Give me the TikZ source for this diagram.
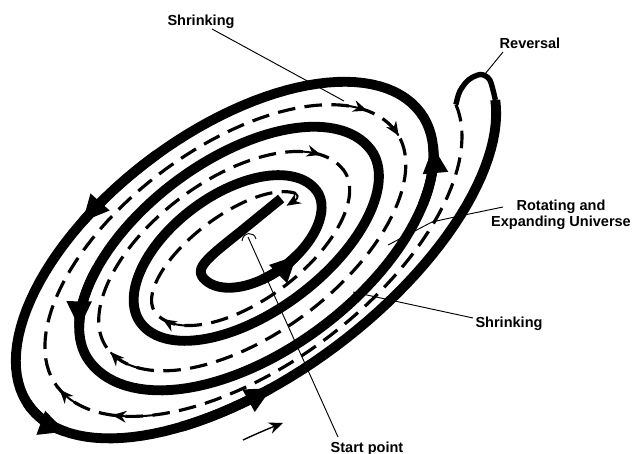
\documentclass[tikz,border=0pt]{standalone}
\usepackage{fontspec}
\setmainfont{Liberation Sans}
\usetikzlibrary{arrows.meta}
\begin{document}
\begin{tikzpicture}[x=0.03cm,y=-0.03cm,
  thk/.style={line width=8.4pt, line join=round},
  dsh/.style={line width=2.7pt, dash pattern=on 15pt off 8pt},
  thn/.style={line width=1.7pt},
  loopline/.style={line width=4.6pt, line join=round},
  lead/.style={line width=0.8pt},
  lbl/.style={font=\fontsize{12.4}{13.7}\selectfont\bfseries, inner sep=0pt, align=center},
  bigtip/.style={-{Triangle[length=23pt,width=20pt]}},
  smalltipR/.style={{Stealth[length=12pt,width=10pt]}-},
  smalltip/.style={-{Stealth[length=12pt,width=10pt]}},
]
\useasboundingbox (0,0) rectangle (633,454);

\begin{scope}[shift={(255,237)}, rotate=37, yscale=-1, samples=60, variable=\t]
  % thick expanding spiral
  \draw[thk] (44,15) -- (-8,13) .. controls (-45,12) and (-66,12) .. (-66,0)
    -- plot[domain=180:360] ({5.5+71.5*cos(\t)},{41*sin(\t)})
    -- plot[domain=0:180] ({-33+110*cos(\t)},{60*sin(\t)})
    -- plot[domain=180:360] ({1+144*cos(\t)},{73*sin(\t)})
    -- plot[domain=0:180] ({-31+176*cos(\t)},{92*sin(\t)})
    -- plot[domain=180:360] ({207*cos(\t)},{112*sin(\t)})
    -- plot[domain=0:180] ({-37.5+244.5*cos(\t)},{125*sin(\t)})
    -- plot[domain=180:345] ({1+283*cos(\t)},{136*sin(\t)});
  % reversal loop
  \draw[loopline] plot[smooth] coordinates {(274.4,-35.2) (282,-16) (278,-6) (265,-3) (251,-7) (240.2,-15.1)};
  % dashed shrinking spiral
  \draw[dsh] plot[domain=0:173] ({-3+245*cos(353-\t)},{124*sin(353-\t)})
    -- plot[domain=0:180] ({-36+212*cos(180-\t)},{108*sin(180-\t)})
    -- plot[domain=0:180] ({-4.5+180.5*cos(360-\t)},{92*sin(360-\t)})
    -- plot[domain=0:180] ({-37+148*cos(180-\t)},{76*sin(180-\t)})
    -- plot[domain=0:180] ({-7+118*cos(360-\t)},{57*sin(360-\t)})
    -- plot[domain=0:165] ({-31.5+93.5*cos(180-\t)},{39*sin(180-\t)});
  \draw[thn, smalltip] (58.8,10.1) .. controls (60,5) and (55,5) .. (44,6);
  % thick arrows
  \draw[thk, bigtip] plot[domain=250:284] ({5.5+71.5*cos(\t)},{41*sin(\t)});
  \draw[thk, bigtip] plot[domain=130:159] ({-31+176*cos(\t)},{92*sin(\t)});
  \draw[thk, bigtip] plot[domain=88:112] ({-37.5+244.5*cos(\t)},{125*sin(\t)});
  \draw[thk, bigtip] plot[domain=318:342] ({207*cos(\t)},{112*sin(\t)});
  \draw[thk, bigtip] plot[domain=232:254] ({1+283*cos(\t)},{136*sin(\t)});
  \draw[thk, bigtip] plot[domain=178:198] ({1+283*cos(\t)},{136*sin(\t)});
  % thin arrows on dashed spiral
  \draw[thn, smalltipR] plot[domain=18:31] ({-36+212*cos(\t)},{108*sin(\t)});
  \draw[thn, smalltipR] plot[domain=-3:9] ({-36+212*cos(\t)},{108*sin(\t)});
  \draw[thn, smalltipR] plot[domain=20:36] ({-37+148*cos(\t)},{76*sin(\t)});
  \draw[thn, smalltipR] plot[domain=190:216] ({-7+118*cos(\t)},{57*sin(\t)});
  \draw[thn, smalltipR] plot[domain=183:202] ({-4.5+180.5*cos(\t)},{92*sin(\t)});
  \draw[thn, smalltipR] plot[domain=182:196] ({-3+245*cos(\t)},{124*sin(\t)});
  \draw[thn, smalltipR] plot[domain=207:222] ({-3+245*cos(\t)},{124*sin(\t)});
\end{scope}

% labels
\node[lbl, anchor=base] (shr1) at (201,25.5) {Shrinking};
\node[lbl, anchor=base] (rev) at (530,49) {Reversal};
\node[lbl] (rot) at (561,215) {Rotating and\\Expanding Universe};
\node[lbl, anchor=base] (shr2) at (509,327.5) {Shrinking};
\node[lbl, anchor=base] (start) at (367,452.5) {Start point};

% leader lines
\coordinate (s1a) at (212,29);
\coordinate (s1b) at (344,101);
\draw[lead] (s1a) -- (s1b);
\coordinate (rva) at (503,52);
\coordinate (rvb) at (485,74);
\draw[lead] (rva) -- (rvb);
\coordinate (roa) at (503,207);
\coordinate (rob) at (388,245);
\draw[lead] (roa) -- (450,218) -- (432,222) -- (rob);
\coordinate (s2a) at (473,318);
\coordinate (s2b) at (353,292);
\draw[lead] (s2a) -- (s2b);
\coordinate (spa) at (338,437);
\coordinate (spb) at (248,237);
\draw[lead] (spa) -- (spb);
\draw[lead] (242,241) .. controls (243,232) and (254,231) .. (256,239);
% free rotation arrow
\coordinate (fa) at (243,440);
\coordinate (fb) at (283,423);
\draw[line width=1.2pt, smalltip] (fa) .. controls (258,433) and (270,428) .. (fb);
\end{tikzpicture}
\end{document}
